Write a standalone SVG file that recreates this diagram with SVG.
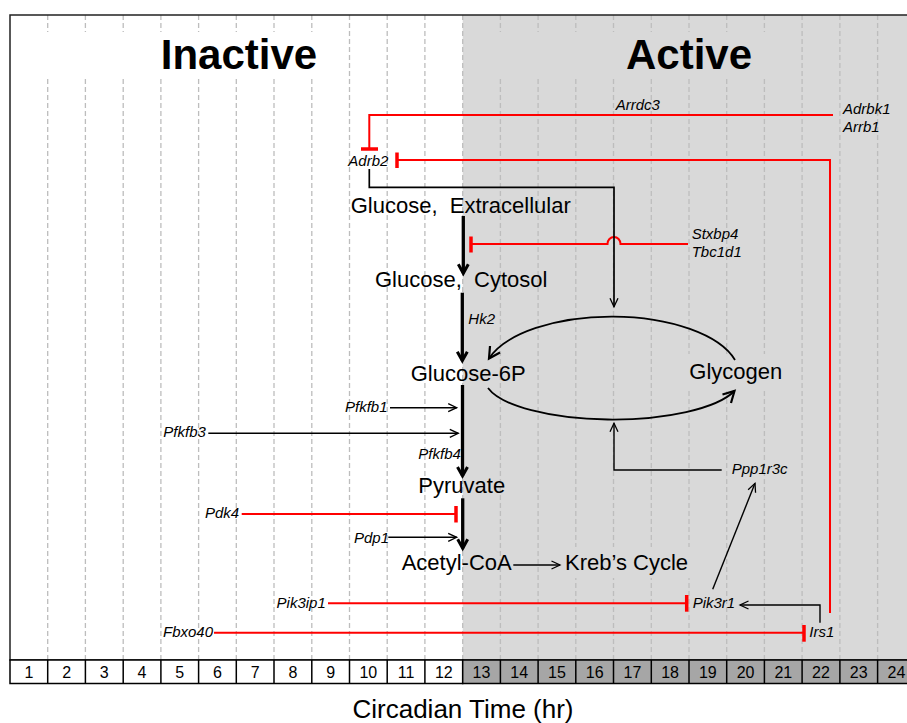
<svg xmlns="http://www.w3.org/2000/svg" width="907" height="723" viewBox="0 0 907 723">
<style>
.grid{stroke:#bdbdbd;stroke-width:1.3;stroke-dasharray:5 3;fill:none}
.main{font-family:"Liberation Sans",Arial,sans-serif;font-size:22px;fill:#000;white-space:pre}
.gene{font-family:"Liberation Sans",Arial,sans-serif;font-size:15px;font-style:italic;fill:#000}
.title{font-family:"Liberation Sans",Arial,sans-serif;font-size:42px;font-weight:bold;fill:#000;text-anchor:middle}
.num{font-family:"Liberation Sans",Arial,sans-serif;font-size:16px;fill:#000;text-anchor:middle}
.axis{font-family:"Liberation Sans",Arial,sans-serif;font-size:26px;fill:#000;text-anchor:middle}
.thin{stroke:#000;stroke-width:1.4;fill:none;marker-end:url(#aThin)}
.thick{stroke:#000;stroke-width:3.3;fill:none;marker-end:url(#aThick)}
.cyc{stroke:#000;stroke-width:1.8;fill:none;marker-end:url(#aCyc)}
.inh{stroke:#ff0000;stroke-width:2;fill:none}
.bar{stroke:#ff0000;stroke-width:3.5;fill:none}
.cell{stroke:#000;stroke-width:1.5}
</style>
<defs>
<marker id="aThin" markerUnits="userSpaceOnUse" markerWidth="12" markerHeight="12" refX="10" refY="5" orient="auto" overflow="visible">
<path d="M1.5,1 L10,5 L1.5,9" fill="none" stroke="#000" stroke-width="1.3"/>
</marker>
<marker id="aThick" markerUnits="userSpaceOnUse" markerWidth="14" markerHeight="14" refX="10" refY="5" orient="auto" overflow="visible">
<path d="M1,0 L10,5 L1,10" fill="none" stroke="#000" stroke-width="3"/>
</marker>
<marker id="aCyc" markerUnits="userSpaceOnUse" markerWidth="16" markerHeight="16" refX="12" refY="7" orient="auto" overflow="visible">
<path d="M1,1 L12,7 L1,13" fill="none" stroke="#000" stroke-width="2.2"/>
</marker>
</defs>

<!-- background -->
<rect x="0" y="0" width="907" height="723" fill="#fff"/>
<rect x="462.7" y="15" width="453" height="645" fill="#d9d9d9"/>

<!-- grid -->
<g id="grid">
<path class="grid" d="M47.7,15V660M85.4,15V660M123.2,15V660M160.9,15V660M198.6,15V660M236.3,15V660M274,15V660M311.8,15V660M349.5,15V660M387.2,15V660M424.9,15V660M462.7,15V660M500.4,15V660M538.1,15V660M575.8,15V660M613.5,15V660M651.3,15V660M689,15V660M726.7,15V660M764.4,15V660M802.1,15V660M839.9,15V660M877.6,15V660"/>
</g>

<!-- label backgrounds -->
<rect x="32" y="32" width="305" height="46" fill="#fff"/>
<rect x="485" y="32" width="305" height="46" fill="#d9d9d9"/>
<rect x="680" y="354" width="112" height="36" fill="#d9d9d9"/>
<rect x="560" y="547" width="135" height="31" fill="#d9d9d9"/>

<rect x="10" y="15" width="905" height="645" fill="none" stroke="#222" stroke-width="1.5"/>

<g id="titles">
<text class="title" x="239" y="69">Inactive</text>
<text class="title" x="689" y="69">Active</text>
</g>

<!-- connectors -->
<g id="connectors">
<path class="inh" d="M833,115H369.3V149"/>
<path class="bar" d="M361,149H378"/>
<path class="inh" d="M830,613V160H397"/>
<path class="bar" d="M397,152.5V168"/>
<path class="inh" d="M688,244H620.5A6.5,7 0 0 0 607.5,244H471"/>
<path class="bar" d="M471,236.5V252.5"/>
<path class="inh" d="M241.7,514H456"/>
<path class="bar" d="M456,506V522.5"/>
<path class="inh" d="M328,603.3H686.7"/>
<path class="bar" d="M686.7,595V611.7"/>
<path class="inh" d="M214,632.7H804"/>
<path class="bar" d="M804,625V641.7"/>

<path class="thin" style="stroke-width:1.7" d="M369.3,169V187.3H614V306.7"/>
<path class="thick" d="M463.3,216V273.3"/>
<path class="thick" d="M462.3,292.7V360.7"/>
<path class="thick" d="M462.5,385V476"/>
<path class="thick" d="M462.7,498.3V548.3"/>
<path class="thin" d="M390,407.7H456.7"/>
<path class="thin" d="M208.3,433.3H458.3"/>
<path class="thin" d="M388.3,537.3H456.7"/>
<path class="thin" d="M513.3,565H560"/>
<path class="thin" d="M721.7,470H614V423.3"/>
<path class="thin" d="M712.7,589.3L755,483.3"/>
<path class="thin" d="M820,622.7V605H740"/>
<path class="cyc" d="M735,360A128,59 0 0 0 489,358.5"/>
<path class="cyc" d="M488,388A128,41 0 0 0 734.5,391"/>
</g>

<!-- nodes -->
<g id="n-glc-ext"><text class="main" x="350.7" y="212.7">Glucose,  Extracellular</text></g>
<g id="n-glc-cyt"><text class="main" x="375" y="287.3">Glucose,  Cytosol</text></g>
<g id="n-g6p"><text class="main" x="410.7" y="380.7">Glucose-6P</text></g>
<g id="n-glycogen"><text class="main" x="689.3" y="379.3">Glycogen</text></g>
<g id="n-pyruvate"><text class="main" x="418.3" y="493.3">Pyruvate</text></g>
<g id="n-acetyl"><text class="main" x="401.7" y="570">Acetyl-CoA</text></g>
<g id="n-kreb"><text class="main" x="565" y="570">Kreb’s Cycle</text></g>

<g id="g-arrdc3"><text class="gene" x="615.7" y="110">Arrdc3</text></g>
<g id="g-adrbk1"><text class="gene" x="843" y="114.3">Adrbk1</text><text class="gene" x="843" y="131.7">Arrb1</text></g>
<g id="g-adrb2"><text class="gene" x="348.3" y="165.7">Adrb2</text></g>
<g id="g-stxbp4"><text class="gene" x="691.7" y="239.3">Stxbp4</text><text class="gene" x="691.7" y="257.3">Tbc1d1</text></g>
<g id="g-hk2"><text class="gene" x="468.3" y="324">Hk2</text></g>
<g id="g-pfkfb1"><text class="gene" x="345" y="411.7">Pfkfb1</text></g>
<g id="g-pfkfb3"><text class="gene" x="163.3" y="437.3">Pfkfb3</text></g>
<g id="g-pfkfb4"><text class="gene" x="418.3" y="459">Pfkfb4</text></g>
<g id="g-pdk4"><text class="gene" x="205" y="518.3">Pdk4</text></g>
<g id="g-pdp1"><text class="gene" x="354" y="542.7">Pdp1</text></g>
<g id="g-ppp1r3c"><text class="gene" x="731.7" y="474.3">Ppp1r3c</text></g>
<g id="g-pik3ip1"><text class="gene" x="276.6" y="608">Pik3ip1</text></g>
<g id="g-pik3r1"><text class="gene" x="692.7" y="607.7">Pik3r1</text></g>
<g id="g-fbxo40"><text class="gene" x="163" y="637">Fbxo40</text></g>
<g id="g-irs1"><text class="gene" x="809.3" y="636.7">Irs1</text></g>

<!-- time axis -->
<g id="axis">
<rect class="cell" x="10" y="660" width="452.7" height="23.5" fill="#fff"/>
<rect class="cell" x="462.7" y="660" width="453" height="23.5" fill="#a6a6a6"/>
<path class="cell" fill="none" d="M47.7,660V683.5M85.4,660V683.5M123.2,660V683.5M160.9,660V683.5M198.6,660V683.5M236.3,660V683.5M274,660V683.5M311.8,660V683.5M349.5,660V683.5M387.2,660V683.5M424.9,660V683.5M500.4,660V683.5M538.1,660V683.5M575.8,660V683.5M613.5,660V683.5M651.3,660V683.5M689,660V683.5M726.7,660V683.5M764.4,660V683.5M802.1,660V683.5M839.9,660V683.5M877.6,660V683.5"/>
<text class="num" x="28.9" y="677.8">1</text>
<text class="num" x="66.6" y="677.8">2</text>
<text class="num" x="104.3" y="677.8">3</text>
<text class="num" x="142" y="677.8">4</text>
<text class="num" x="179.7" y="677.8">5</text>
<text class="num" x="217.5" y="677.8">6</text>
<text class="num" x="255.2" y="677.8">7</text>
<text class="num" x="292.9" y="677.8">8</text>
<text class="num" x="330.6" y="677.8">9</text>
<text class="num" x="368.3" y="677.8">10</text>
<text class="num" x="406.1" y="677.8">11</text>
<text class="num" x="443.8" y="677.8">12</text>
<text class="num" x="481.5" y="677.8">13</text>
<text class="num" x="519.2" y="677.8">14</text>
<text class="num" x="557" y="677.8">15</text>
<text class="num" x="594.7" y="677.8">16</text>
<text class="num" x="632.4" y="677.8">17</text>
<text class="num" x="670.1" y="677.8">18</text>
<text class="num" x="707.8" y="677.8">19</text>
<text class="num" x="745.6" y="677.8">20</text>
<text class="num" x="783.3" y="677.8">21</text>
<text class="num" x="821" y="677.8">22</text>
<text class="num" x="858.7" y="677.8">23</text>
<text class="num" x="896.5" y="677.8">24</text>
<text class="axis" x="463" y="718">Circadian Time (hr)</text>
</g>
</svg>
